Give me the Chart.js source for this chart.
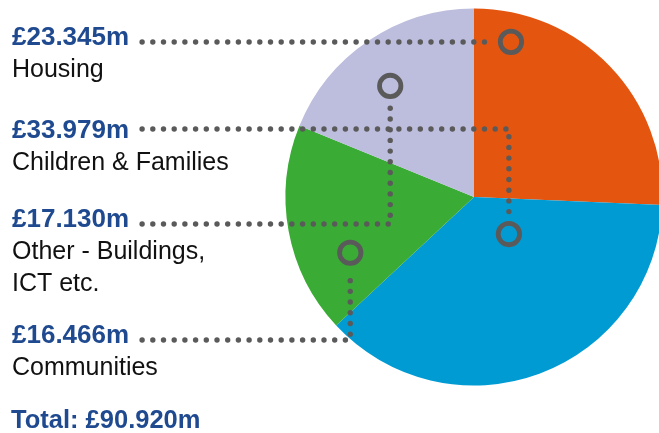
<!DOCTYPE html>
<html>
<head>
<meta charset="utf-8">
<script src="https://cdn.jsdelivr.net/npm/chart.js@4/dist/chart.umd.min.js"></script>
<style>
  html, body { margin: 0; padding: 0; background: #fff; overflow: hidden; }
  #wrap { position: relative; width: 665px; height: 433px; }
</style>
</head>
<body>
<div id="wrap"><canvas id="spend-chart"></canvas></div>
<script>
// Data (pie order, clockwise from 12 o'clock)
const categories = ['Housing', 'Children & Families', 'Communities', 'Other - Buildings, ICT etc.'];
const amounts = [23.345, 33.979, 16.466, 17.130];
const valueLabels = ['£23.345m', '£33.979m', '£16.466m', '£17.130m'];
const nameLines = [['Housing'], ['Children & Families'], ['Communities'], ['Other - Buildings,', 'ICT etc.']];
const totalLabel = 'Total: £90.920m';

const sliceColors = ['#E45510', '#009BD3', '#3AAB35', '#BDBDDD'];

// Where each label sits and where its marker lands inside the slice
const labelLayout = [
    { baseline: 45,  lineY: 42,  angleFrac: 0.145, radiusFrac: 0.846 },
    { baseline: 138, lineY: 129, angleFrac: 0.329, radiusFrac: 0.27 },
    { baseline: 343, lineY: 340, angleFrac: 0.288, radiusFrac: 0.72 },
    { baseline: 227, lineY: 224, angleFrac: 0.454, radiusFrac: 0.738 }
];

// dots along a polyline, fixed spacing
function dottedPath(ctx, pts, gap, r) {
    let carry = 0;
    for (let p = 0; p < pts.length - 1; p++) {
        const [x0, y0] = pts[p], [x1, y1] = pts[p + 1];
        const len = Math.hypot(x1 - x0, y1 - y0);
        for (let d = carry; d <= len; d += gap) {
            const t = d / len;
            ctx.beginPath();
            ctx.arc(x0 + (x1 - x0) * t, y0 + (y1 - y0) * t, r, 0, Math.PI * 2);
            ctx.fill();
            carry = d + gap - len;
        }
    }
}

const calloutPlugin = {
    id: 'callouts',
    afterDraw(chart) {
        const ctx = chart.ctx;
        const arcs = chart.getDatasetMeta(0).data;
        const ringR = 10.7;

        ctx.save();
        categories.forEach((cat, i) => {
            const lay = labelLayout[i];
            const arc = arcs[i];
            const a = arc.startAngle + (arc.endAngle - arc.startAngle) * lay.angleFrac;
            const mx = arc.x + Math.cos(a) * arc.outerRadius * lay.radiusFrac;
            const my = arc.y + Math.sin(a) * arc.outerRadius * lay.radiusFrac;

            // text
            ctx.textAlign = 'left';
            ctx.textBaseline = 'alphabetic';
            ctx.font = 'bold 26px "Liberation Sans", Arial, sans-serif';
            ctx.fillStyle = '#1F4A90';
            ctx.fillText(valueLabels[i], 12, lay.baseline);
            const startX = 12 + ctx.measureText(valueLabels[i]).width + 13;

            ctx.font = '25px "Liberation Sans", Arial, sans-serif';
            ctx.fillStyle = '#111';
            nameLines[i].forEach((ln, k) => ctx.fillText(ln, 12, lay.baseline + 32 * (k + 1)));

            // dotted connector
            ctx.fillStyle = '#5a5a5a';
            let pts;
            if (Math.abs(lay.lineY - my) < 2) {
                pts = [[startX, lay.lineY], [mx - ringR - 10, lay.lineY]];
            } else {
                const dir = my > lay.lineY ? 1 : -1;
                pts = [[startX, lay.lineY], [mx, lay.lineY], [mx, my - dir * (ringR + 8)]];
            }
            dottedPath(ctx, pts, 10.7, 2.7);

            // ring marker
            ctx.beginPath();
            ctx.strokeStyle = '#5a5a5a';
            ctx.lineWidth = 4.8;
            ctx.arc(mx, my, ringR, 0, Math.PI * 2);
            ctx.stroke();
        });

        ctx.font = 'bold 25.5px "Liberation Sans", Arial, sans-serif';
        ctx.fillStyle = '#1F4A90';
        ctx.fillText(totalLabel, 11, 428);
        ctx.restore();
    }
};

new Chart(document.getElementById('spend-chart'), {
    type: 'pie',
    data: {
        labels: categories,
        datasets: [{
            data: amounts,
            backgroundColor: sliceColors,
            borderWidth: 0
        }]
    },
    options: {
        responsive: true,
        maintainAspectRatio: false,
        animation: false,
        layout: { padding: { left: 285.5, top: 8.5, right: 2.5, bottom: 47.5 } },
        plugins: { legend: { display: false }, tooltip: { enabled: false } }
    },
    plugins: [calloutPlugin]
});
</script>
</body>
</html>
